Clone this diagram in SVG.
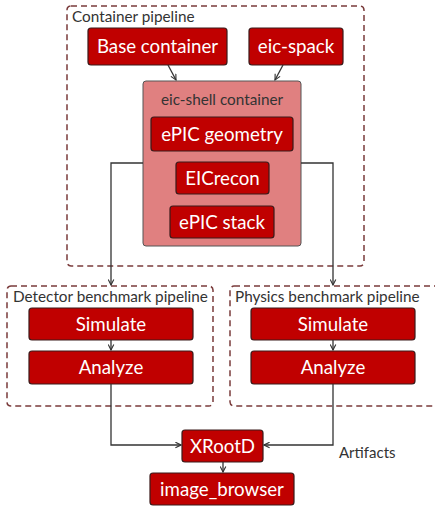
<svg xmlns="http://www.w3.org/2000/svg" width="435" height="507" viewBox="0 0 435 507">
<defs>
<marker id="ah" viewBox="0 0 10 10" refX="9" refY="5" markerWidth="7" markerHeight="7" orient="auto-start-reverse" markerUnits="userSpaceOnUse">
<path d="M1,1 L9,5 L1,9" fill="none" stroke="#333" stroke-width="1.6"/>
</marker>
<style>
.grp{fill:none;stroke:#7a3b3b;stroke-width:1.5;stroke-dasharray:6,4}
.node{fill:#c00000;stroke:#3a1a1a;stroke-width:1.2}
.nt{font-family:Lato,"Open Sans",sans-serif;font-size:18.7px;fill:#fff;text-anchor:middle}
.gl{font-family:Lato,"Open Sans",sans-serif;font-size:15.3px;fill:#333}
.edge{fill:none;stroke:#333;stroke-width:1.3}
</style>
</defs>
<rect width="435" height="507" fill="#fff"/>
<g id="container-pipeline">
<rect class="grp" x="67" y="6" width="297" height="260" rx="4"/>
<text class="gl" x="72" y="22">Container pipeline</text>
</g>
<g id="detector-pipeline">
<rect class="grp" x="7" y="286" width="206" height="120" rx="4"/>
<text class="gl" x="13" y="302">Detector benchmark pipeline</text>
</g>
<g id="physics-pipeline">
<rect class="grp" x="230" y="286" width="210" height="120" rx="4"/>
<text class="gl" x="235" y="302">Physics benchmark pipeline</text>
</g>
<g id="base-container">
<rect class="node" x="88" y="28" width="139" height="37" rx="3"/>
<text class="nt" x="157.5" y="52.5">Base container</text>
</g>
<g id="eic-spack">
<rect class="node" x="249" y="28" width="94" height="37" rx="3"/>
<text class="nt" x="296" y="52.5">eic-spack</text>
</g>
<g id="eic-shell">
<rect x="143" y="81" width="158" height="165" rx="3" fill="#e08080" stroke="#555" stroke-width="1"/>
<text x="222" y="105" font-family="Lato,'Open Sans',sans-serif" font-size="15.3" fill="#333" text-anchor="middle">eic-shell container</text>
</g>
<g id="epic-geometry">
<rect class="node" x="151" y="117" width="142" height="34" rx="3"/>
<text class="nt" x="222" y="140.5">ePIC geometry</text>
</g>
<g id="eicrecon">
<rect class="node" x="176" y="162" width="93" height="32" rx="3"/>
<text class="nt" x="222.5" y="184.5">EICrecon</text>
</g>
<g id="epic-stack">
<rect class="node" x="170" y="206" width="104" height="32" rx="3"/>
<text class="nt" x="222" y="228.5">ePIC stack</text>
</g>
<g id="det-simulate">
<rect class="node" x="29" y="308" width="164" height="32" rx="3"/>
<text class="nt" x="111" y="330.5">Simulate</text>
</g>
<g id="det-analyze">
<rect class="node" x="29" y="351" width="164" height="33" rx="3"/>
<text class="nt" x="111" y="373.5">Analyze</text>
</g>
<g id="phys-simulate">
<rect class="node" x="251" y="308" width="164" height="32" rx="3"/>
<text class="nt" x="333" y="330.5">Simulate</text>
</g>
<g id="phys-analyze">
<rect class="node" x="251" y="351" width="164" height="33" rx="3"/>
<text class="nt" x="333" y="373.5">Analyze</text>
</g>
<g id="xrootd">
<rect class="node" x="182" y="430" width="81" height="32" rx="3"/>
<text class="nt" x="222.5" y="452.5">XRootD</text>
</g>
<g id="image-browser">
<rect class="node" x="150" y="473" width="144" height="32" rx="3"/>
<text class="nt" x="222" y="495.5">image_browser</text>
</g>
<g id="connectors">
<path class="edge" d="M168,65 L176,80" marker-end="url(#ah)"/>
<path class="edge" d="M283,65 L275,80" marker-end="url(#ah)"/>
<path class="edge" d="M143,163 H111 V285" marker-end="url(#ah)"/>
<path class="edge" d="M301,163 H333 V285" marker-end="url(#ah)"/>
<path class="edge" d="M111,340 V350" marker-end="url(#ah)"/>
<path class="edge" d="M333,340 V350" marker-end="url(#ah)"/>
<path class="edge" d="M111,384 V445 H181" marker-end="url(#ah)"/>
<path class="edge" d="M333,384 V445 H264" marker-end="url(#ah)"/>
<path class="edge" d="M223,462 V472" marker-end="url(#ah)"/>
<text x="339" y="458" font-family="Lato,'Open Sans',sans-serif" font-size="15" fill="#333">Artifacts</text>
</g>
</svg>
